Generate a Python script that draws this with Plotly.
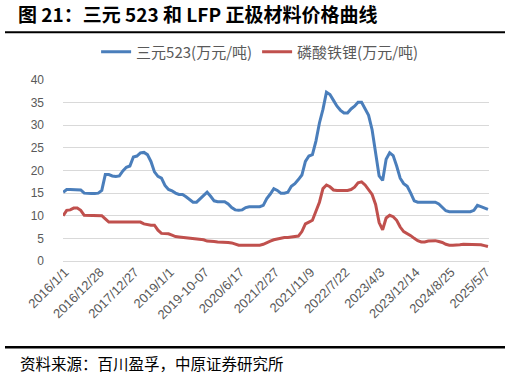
import plotly.graph_objects as go

tick_labels = ["2016/1/1", "2016/12/28", "2017/12/27", "2019/1/1", "2019-10-07",
               "2020/6/17", "2021/2/27", "2021/11/9", "2022/7/22", "2023/4/3",
               "2023/12/14", "2024/8/25", "2025/5/7"]

ncm523 = [15.2, 15.8, 15.8, 15.8, 15.8, 15.7, 15.0, 14.9, 14.9, 14.9,
          15.0, 15.6, 19.1, 19.1, 18.8, 18.7, 18.8, 19.9, 20.7, 21.0,
          23.0, 23.2, 23.9, 24.0, 23.5, 22.0, 19.7, 18.7, 18.3, 16.7,
          15.8, 15.5, 15.0, 14.7, 14.7, 14.2, 13.6, 13.0, 13.0, 13.7,
          14.6, 15.2, 14.3, 13.3, 13.1, 13.1, 13.1, 12.6, 11.8, 11.3,
          11.2, 11.3, 11.8, 12.0, 12.0, 12.0, 12.0, 12.3, 13.8, 14.8,
          16.0, 15.6, 15.0, 15.0, 15.2, 16.5, 17.1, 18.0, 19.0, 22.0,
          23.2, 23.5, 26.5, 30.5, 33.5, 37.3, 36.8, 35.5, 34.2, 33.3,
          32.7, 32.7, 33.6, 34.2, 35.1, 35.1, 33.8, 32.2, 29.0, 24.0,
          18.8, 17.8, 22.5, 23.9, 23.3, 21.0, 18.3, 17.1, 16.5, 15.0,
          13.3, 13.0, 13.0, 13.1, 13.1, 13.0, 13.0, 12.6, 11.9, 11.1,
          10.9, 10.9, 10.8, 10.9, 10.8, 10.9, 10.9, 11.2, 12.3, 12.0,
          11.7, 11.4]

lfp = [10.0, 11.2, 11.3, 11.7, 11.7, 11.2, 10.1, 10.1, 10.1, 10.1,
       10.1, 10.0, 9.3, 8.6, 8.6, 8.6, 8.6, 8.6, 8.6, 8.6,
       8.6, 8.6, 8.6, 8.2, 8.0, 7.9, 7.9, 6.8, 6.1, 6.0,
       6.0, 5.7, 5.4, 5.3, 5.2, 5.2, 5.0, 4.9, 4.9, 4.8,
       4.7, 4.4, 4.4, 4.3, 4.2, 4.2, 4.2, 4.1, 4.0, 3.7,
       3.5, 3.5, 3.5, 3.5, 3.5, 3.5, 3.5, 3.7, 4.1, 4.4,
       4.7, 4.9, 5.1, 5.2, 5.2, 5.3, 5.3, 5.5, 6.5, 8.2,
       8.6, 9.0, 11.0, 13.0, 16.0, 16.8, 16.4, 15.7, 15.6, 15.6,
       15.6, 15.6, 15.8, 16.3, 17.3, 17.5, 16.8, 15.7, 14.7, 12.5,
       8.5, 6.9, 9.5, 10.1, 9.8, 9.0, 7.5, 6.5, 6.1, 5.6,
       5.0, 4.5, 4.2, 4.2, 4.4, 4.5, 4.5, 4.3, 4.1, 3.7,
       3.5, 3.5, 3.5, 3.6, 3.7, 3.7, 3.7, 3.7, 3.7, 3.6,
       3.4, 3.2]

series_names = ["三元523(万元/吨)", "磷酸铁锂(万元/吨)"]
title_text = "图 21：三元 523 和 LFP 正极材料价格曲线"
source_text = "资料来源：百川盈孚，中原证券研究所"

idx = list(range(len(ncm523)))
tick_pos = [0.5 + 10 * k for k in range(len(tick_labels))]

CJK = "Noto Sans CJK SC"
NUM = "Liberation Sans, Arial, sans-serif"

fig = go.Figure()
fig.add_trace(go.Scatter(x=idx, y=ncm523, mode="lines", name=series_names[0],
                         line=dict(color="#4a7ebb", width=3)))
fig.add_trace(go.Scatter(x=idx, y=lfp, mode="lines", name=series_names[1],
                         line=dict(color="#c0504d", width=3)))

fig.update_layout(
    width=510, height=378,
    margin=dict(l=63, r=21, t=80, b=117, pad=0, autoexpand=False),
    paper_bgcolor="white", plot_bgcolor="white",
    showlegend=True,
    legend=dict(orientation="h", xref="container", yref="container",
                x=0.51, xanchor="center", y=1 - 52 / 378, yanchor="middle",
                font=dict(family=CJK, size=15, color="#595959"),
                itemwidth=30, bgcolor="rgba(0,0,0,0)"),
    title=dict(text="<b>" + title_text + "</b>", xref="container", yref="container",
               x=18 / 510, xanchor="left", y=1 - 15 / 378, yanchor="middle",
               font=dict(family=CJK, size=19, color="#000000")),
    xaxis=dict(range=[-0.05, 121.3], tickmode="array", tickvals=tick_pos,
               ticktext=tick_labels, tickangle=-45, showgrid=False,
               zeroline=False, showline=False, ticks="", automargin=False,
               tickfont=dict(family=NUM, size=13, color="#595959")),
    yaxis=dict(range=[0, 40], dtick=5, tick0=0, showgrid=True,
               gridcolor="#d9d9d9", gridwidth=1, zeroline=True,
               zerolinecolor="#d9d9d9", zerolinewidth=1, showline=False,
               ticks="", ticklabelstandoff=18, automargin=False,
               tickfont=dict(family=NUM, size=12, color="#595959")),
    annotations=[dict(text=source_text, xref="paper", yref="paper",
                      x=(18 - 63) / 426, xanchor="left",
                      y=(260.7 - 363) / 181, yanchor="middle", showarrow=False,
                      font=dict(family=CJK, size=15.5, color="#000000"))],
    shapes=[
        dict(type="line", xref="paper", yref="paper",
             x0=(5 - 63) / 426, x1=(505 - 63) / 426,
             y0=(260.7 - 32) / 181, y1=(260.7 - 32) / 181,
             line=dict(color="#000000", width=2)),
        dict(type="line", xref="paper", yref="paper",
             x0=(5 - 63) / 426, x1=(505 - 63) / 426,
             y0=(260.7 - 347) / 181, y1=(260.7 - 347) / 181,
             line=dict(color="#000000", width=2.5)),
    ],
)

fig.write_html("out.html", config={"displayModeBar": False},
               post_script="document.body.style.margin='0';document.body.style.padding='0';")
